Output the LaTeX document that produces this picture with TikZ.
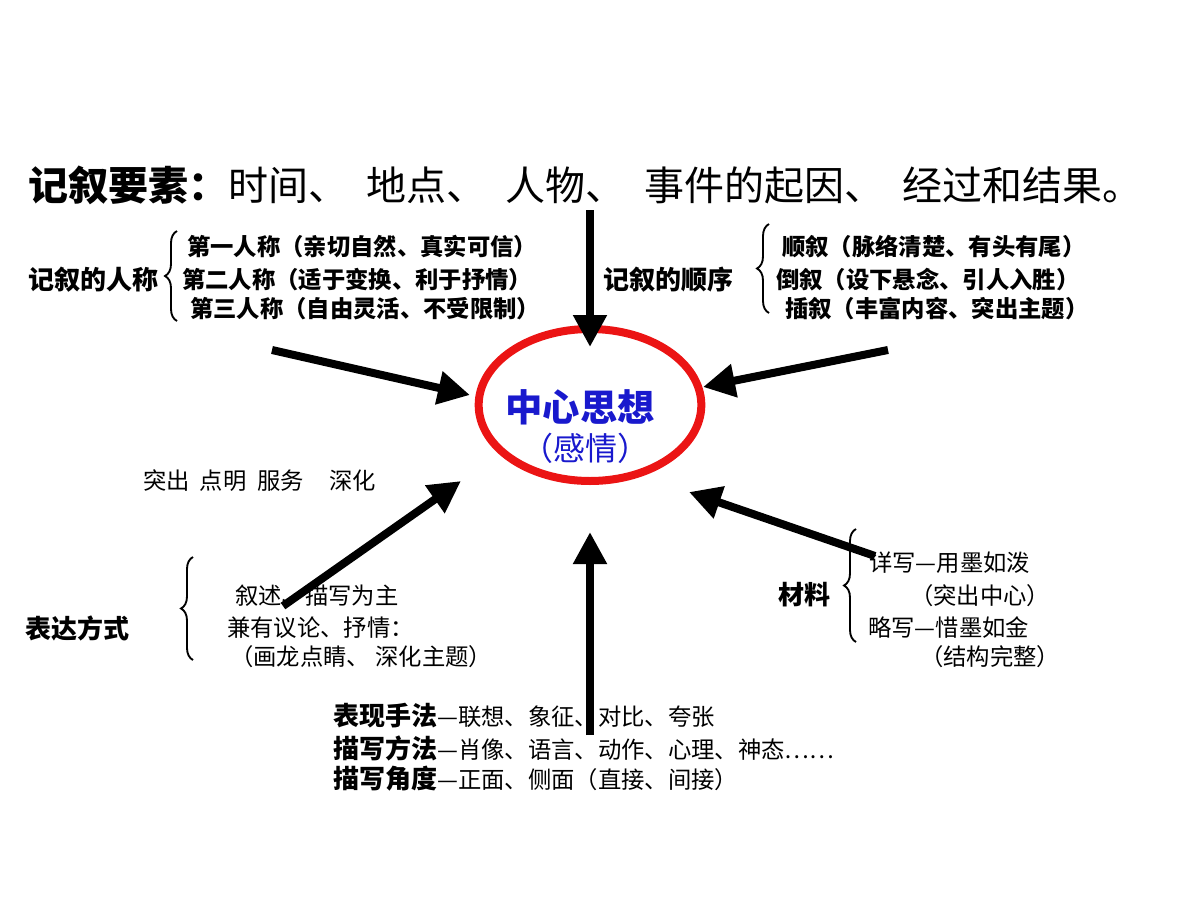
\documentclass[tikz,border=0pt]{standalone}
\usepackage{fontspec}
\setmainfont{Noto Sans CJK SC}
\usetikzlibrary{arrows.meta,shapes.geometric,decorations.pathreplacing}
\definecolor{ringred}{RGB}{235,20,20}
\definecolor{ideablue}{RGB}{25,25,205}
\begin{document}
\begin{tikzpicture}[x=0.75pt,y=-0.75pt,
    big/.style={font=\fontsize{30}{34}\selectfont,anchor=west,inner sep=0pt},
    head/.style={font=\fontsize{19.5}{22}\selectfont\bfseries,anchor=west,inner sep=0pt},
    item/.style={font=\fontsize{17.5}{20}\selectfont\bfseries,anchor=west,inner sep=0pt},
    note/.style={font=\fontsize{17.5}{20}\selectfont,anchor=west,inner sep=0pt},
    fat/.style={line width=6pt,-{Triangle[length=24pt,width=24pt]}},
    brace/.style={decorate,decoration={brace,amplitude=9pt},line width=1.4pt}]
  \useasboundingbox (0,0) rectangle (1200,900);
  % title line
  \node[big] (title) at (28,185) {\textbf{记叙要素：}时间、\hspace{14pt}地点、\hspace{14pt}人物、\hspace{14pt}事件的起因、\hspace{14pt}经过和结果。};
  % person
  \node[head] (person) at (28,280) {记叙的人称};
  \draw[brace] (177,321) -- (177,231);
  \node[item] (p1) at (187,247) {第一人称（亲切自然、真实可信）};
  \node[item] (p2) at (182,280) {第二人称（适于变换、利于抒情）};
  \node[item] (p3) at (190,309) {第三人称（自由灵活、不受限制）};
  % order
  \node[head] (order) at (603,280) {记叙的顺序};
  \draw[brace] (769,313) -- (769,224);
  \node[item] (o1) at (782,247) {顺叙（脉络清楚、有头有尾）};
  \node[item] (o2) at (776,280) {倒叙（设下悬念、引人入胜）};
  \node[item] (o3) at (785,309) {插叙（丰富内容、突出主题）};
  % centre
  \node[ellipse,draw=ringred,line width=6pt,minimum width=167pt,minimum height=114pt] (idea) at (590,405) {};
  \node[font=\fontsize{28}{30}\selectfont\bfseries,text=ideablue] (ideatext) at (580,407) {中心思想};
  \node[font=\fontsize{24}{26}\selectfont,text=ideablue] (feel) at (585,448) {（感情）};
  % expression
  \node[note] (use) at (143,481) {突出\hspace{7.5pt}点明\hspace{8pt}服务\hspace{19pt}深化};
  \node[head] (express) at (25,628) {表达方式};
  \draw[brace] (193,660) -- (193,557);
  \node[note] (e1) at (235,596) {叙述、描写为主};
  \node[note] (e2) at (227,628) {兼有议论、抒情：};
  \node[note] (e3) at (230,657) {（画龙点睛、 深化主题）};
  % material
  \node[head] (material) at (778,595) {材料};
  \draw[brace] (856,642) -- (856,529);
  \node[note] (m1) at (869,563) {详写—用墨如泼};
  \node[note] (m2) at (910,596) {（突出中心）};
  \node[note] (m3) at (868,628) {略写—惜墨如金};
  \node[note] (m4) at (920,657) {（结构完整）};
  % method
  \node[note] (w1) at (333,716) {{\fontsize{19.5}{22}\selectfont\bfseries 表现手法}—联想、象征、对比、夸张};
  \node[note] (w2) at (333,748) {{\fontsize{19.5}{22}\selectfont\bfseries 描写方法}—肖像、语言、动作、心理、神态……};
  \node[note] (w3) at (333,779) {{\fontsize{19.5}{22}\selectfont\bfseries 描写角度}—正面、侧面（直接、间接）};
  % arrow ends
  \coordinate (t1) at (590,210);  \coordinate (h1) at (590,347);
  \coordinate (t2) at (272,350);  \coordinate (h2) at (470,395);
  \coordinate (t3) at (888,350);  \coordinate (h3) at (703,387);
  \coordinate (t4) at (283,606);  \coordinate (h4) at (461,481);
  \coordinate (t5) at (590,735);  \coordinate (h5) at (590,532);
  \coordinate (t6) at (875,556);  \coordinate (h6) at (689,492);
  \begin{scope}[fat]
    \draw (t1) to (h1);
    \draw (t2) to (h2);
    \draw (t3) to (h3);
    \draw (t4) to (h4);
    \draw (t5) to (h5);
    \draw (t6) to (h6);
  \end{scope}
\end{tikzpicture}
\end{document}
